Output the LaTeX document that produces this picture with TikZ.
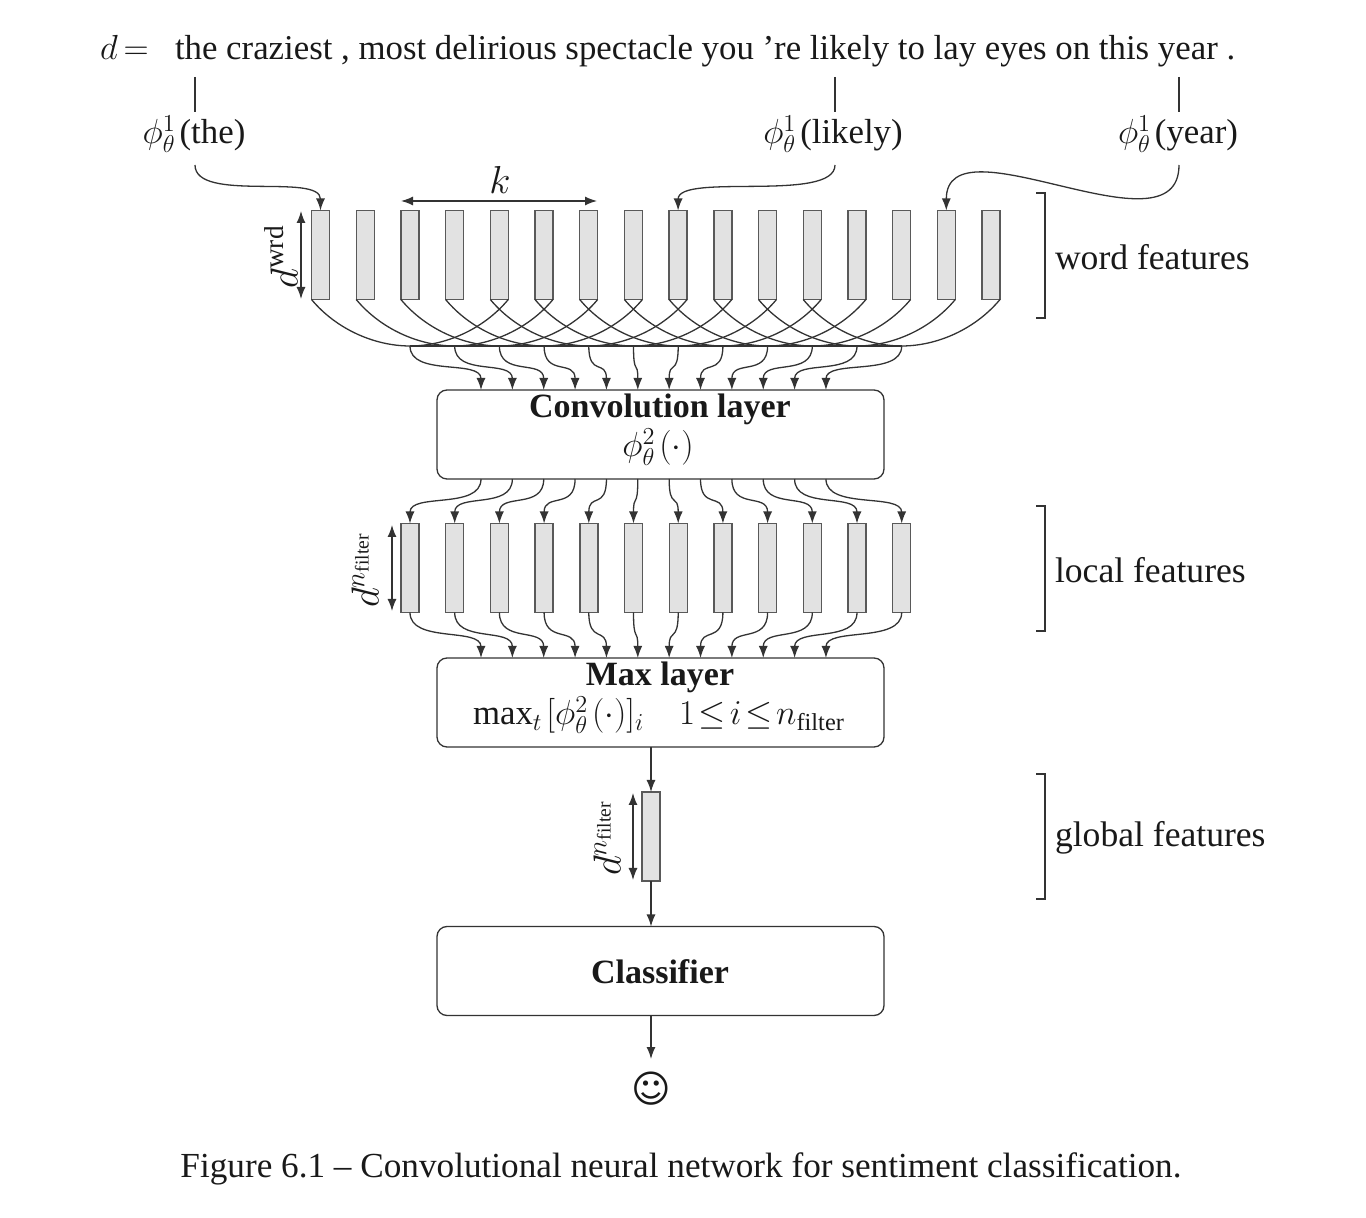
\RequirePackage{fix-cm}
\documentclass[tikz,border=0pt]{standalone}
\usepackage{fontspec}
\setmainfont{Liberation Serif}
\newfontfamily\symbolfont{DejaVu Sans}
\usetikzlibrary{arrows.meta}
\definecolor{barfill}{gray}{0.885}
\definecolor{inkline}{gray}{0.2}
\tikzset{
    txt/.style={inner sep=0pt, outer sep=0pt, text=black!90, font=\fontsize{17.4}{20}\selectfont},
    bigtxt/.style={txt, font=\fontsize{19.5}{20}\selectfont},
    bartxt/.style={txt, font=\fontsize{17}{20}\selectfont\bfseries},
    line/.style={draw=inkline, line width=0.65pt},
    arr/.style={line, -{Latex[length=6pt,width=4.5pt]}},
    dblarr/.style={line, {Latex[length=6pt,width=4.5pt]}-{Latex[length=6pt,width=4.5pt]}},
    featbar/.style={draw=black!65, line width=0.7pt, fill=barfill, inner sep=0pt, outer sep=0pt, minimum width=9pt, minimum height=44.5pt},
    layerbox/.style={line, rounded corners=5pt, inner sep=0pt, outer sep=0pt, minimum width=223.5pt, minimum height=44.5pt},
}
\begin{document}
\begin{tikzpicture}[x=0.5pt,y=-0.5pt]
    \useasboundingbox (0,0) rectangle (1366,1218);

    % sentence and word lookups
    \node[txt, anchor=base west] (dlabel) at (100,60) {$d\,{=}$};
    \node[txt, anchor=base west] (sentence) at (175,60) {the craziest , most delirious spectacle you ’re likely to lay eyes on this year .};
    \node[txt] (the) at (194,134) {$\phi^1_\theta\mkern2mu$(the)};
    \node[txt] (likely) at (833,134) {$\phi^1_\theta\mkern2mu$(likely)};
    \node[txt] (year) at (1178,134) {$\phi^1_\theta\mkern2mu$(year)};

    % feature bars
    \foreach \i in {1,...,16} {
        \pgfmathsetmacro\barx{320.5+44.7*(\i-1)}
        \node[featbar] (w\i) at (\barx,255) {};
    }
    \foreach \i in {1,...,12} {
        \pgfmathsetmacro\barx{410+44.7*(\i-1)}
        \node[featbar] (l\i) at (\barx,568) {};
    }
    \node[featbar] (g) at (651,836.5) {};

    % layers
    \node[layerbox] (conv) at (660.5,434.5) {};
    \node[layerbox] (max) at (660.5,702.5) {};
    \node[layerbox] (clf) at (660.5,971) {};
    \node[bartxt] (convname) at (660,409) {Convolution layer};
    \node[txt] (convform) at (658,447) {$\phi^2_\theta\mkern2mu(\cdot)$};
    \node[bartxt] (maxname) at (660,677) {Max layer};
    \node[txt] (maxform) at (659,715) {$\max_t\mkern2mu[\phi^2_\theta\mkern2mu(\cdot)]_i\quad 1\mkern2mu{\le}\mkern2mu i\mkern2mu{\le}\mkern2mu n_{\mathrm{filter}}$};
    \node[bartxt] (clfname) at (660,972) {Classifier};
    \node[txt, font=\symbolfont\fontsize{19}{20}\selectfont] (smiley) at (651,1089) {☺};

    % ticks and curves from the words
    \coordinate (thetop) at (195,77);
    \coordinate (likelytop) at (835,77);
    \coordinate (yeartop) at (1179,77);
    \draw[line] (thetop) -- (195,112);
    \draw[line] (likelytop) -- (835,112);
    \draw[line] (yeartop) -- (1179,112);
    \draw[arr] (195,165) .. controls +(0,38) and +(0,-38) .. (w1.north);
    \draw[arr] (835,165) .. controls +(0,38) and +(0,-38) .. (w9.north);
    \draw[arr] (1179,165) .. controls +(0,95) and +(0,-95) .. (w15.north);

    % windows of k words
    \foreach \i in {1,...,12} {
        \coordinate (b\i) at (l\i |- 0,346);
    }
    \draw[line] (b1) -- (b12);
    \foreach \i [evaluate=\i as \j using int(\i+4)] in {1,...,12} {
        \draw[line] (w\i.south west) .. controls +(25,30) and +(-35,0) .. (b\i);
        \draw[line] (w\j.south east) .. controls +(-25,30) and +(35,0) .. (b\i);
    }

    % connectors through the layers
    \foreach \i in {1,...,12} {
        \pgfmathsetmacro\portx{481+31.36*(\i-1)}
        \coordinate (convin\i) at (\portx,0 |- conv.north);
        \coordinate (convout\i) at (\portx,0 |- conv.south);
        \coordinate (maxin\i) at (\portx,0 |- max.north);
        \draw[arr] (b\i) .. controls +(0,31) and +(0,-31) .. (convin\i);
        \draw[arr] (convout\i) .. controls +(0,31) and +(0,-31) .. (l\i.north);
        \draw[arr] (l\i.south) .. controls +(0,31) and +(0,-31) .. (maxin\i);
    }
    \coordinate (maxout) at (g |- max.south);
    \coordinate (clfin) at (g |- clf.north);
    \coordinate (clfout) at (g |- clf.south);
    \coordinate (smileytop) at (651,1059);
    \draw[arr] (maxout) -- (g.north);
    \draw[arr] (g.south) -- (clfin);
    \draw[arr] (clfout) -- (smileytop);

    % sizes
    \coordinate (kl) at (401,201);
    \coordinate (kr) at (597,201);
    \draw[dblarr] (kl) -- (kr);
    \node[bigtxt] (klabel) at (500,180) {$k$};
    \coordinate (wt) at (301,211);
    \coordinate (wb) at (301,299);
    \draw[dblarr] (wt) -- (wb);
    \node[bigtxt, rotate=90] (wlabel) at (281,257) {$d^{\mathrm{wrd}}$};
    \coordinate (lt) at (392,525);
    \coordinate (lb) at (392,611);
    \draw[dblarr] (lt) -- (lb);
    \node[bigtxt, rotate=90] (llabel) at (365,570) {$d^{n_{\mathrm{filter}}}$};
    \coordinate (gt) at (633,793);
    \coordinate (gb) at (633,880);
    \draw[dblarr] (gt) -- (gb);
    \node[bigtxt, rotate=90] (glabel) at (607,838) {$d^{n_{\mathrm{filter}}}$};

    % brackets and feature names
    \foreach \topy/\name/\txtname in {193/wordf/word features,506/localf/local features,774/globalf/global features} {
        \pgfmathsetmacro\boty{\topy+125}
        \pgfmathsetmacro\midy{\topy+64}
        \draw[line] (1036,\topy) -- (1045,\topy) -- (1045,\boty) -- (1036,\boty);
        \node[txt, anchor=west, font=\fontsize{17.8}{20}\selectfont] (\name) at (1055,\midy) {\txtname};
    }

    \node[txt, font=\fontsize{17.6}{20}\selectfont] (caption) at (681,1169) {Figure 6.1 – Convolutional neural network for sentiment classification.};
\end{tikzpicture}
\end{document}
